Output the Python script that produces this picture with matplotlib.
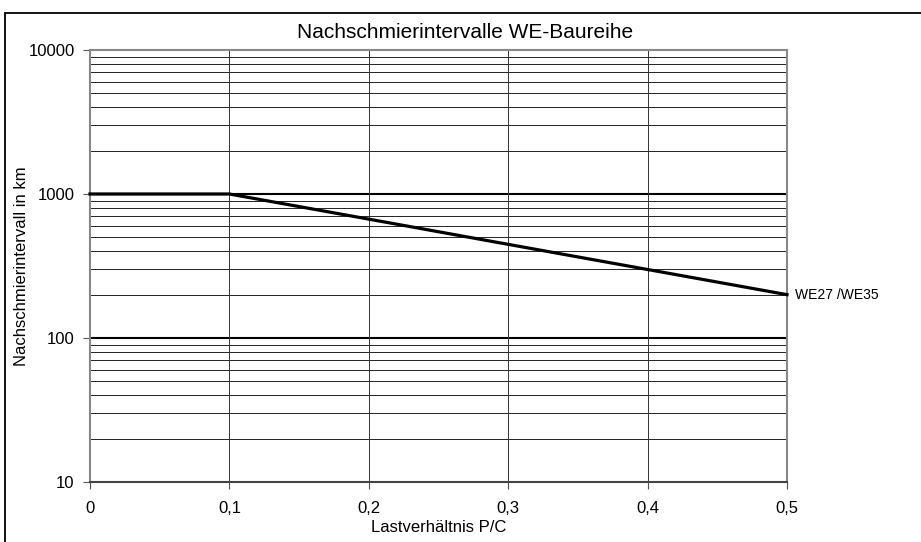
import matplotlib

matplotlib.use("Agg")
import matplotlib.pyplot as plt
from matplotlib.patches import Rectangle
from matplotlib.ticker import FixedLocator, NullFormatter


# P/C load ratio and relubrication interval in km
load_ratio = [0.0, 0.1, 0.2, 0.3, 0.4, 0.5]
interval_km = [1000, 1000, 669, 447, 299, 200]
series_label = "WE27 /WE35"

x_ticks = [0.0, 0.1, 0.2, 0.3, 0.4, 0.5]
x_tick_labels = ["0", "0,1", "0,2", "0,3", "0,4", "0,5"]
y_ticks = [10, 100, 1000, 10000]
y_tick_labels = ["10", "100", "1000", "10000"]

plt.rcParams["font.family"] = ["Liberation Sans", "DejaVu Sans"]

fig = plt.figure(figsize=(9.21, 5.42), dpi=100)
ax = fig.add_axes([90 / 921, 1 - 482 / 542, 697 / 921, 432 / 542])

ax.set_yscale("log")
ax.set_xlim(0, 0.5)
ax.set_ylim(10, 10000)

# minor log grid (2..9 per decade)
minors = [m * 10 ** d for d in range(1, 4) for m in range(2, 10)]
ax.yaxis.set_minor_locator(FixedLocator(minors))
ax.yaxis.set_minor_formatter(NullFormatter())
for v in minors:
    ax.axhline(v, color="#222222", lw=0.7, zorder=1)
for v in [100, 1000]:
    ax.axhline(v, color="black", lw=1.5, zorder=1)
for v in x_ticks[1:-1]:
    ax.axvline(v, color="#333333", lw=0.7, zorder=1)

ax.plot(load_ratio, interval_km, color="black", lw=2.3, zorder=3, clip_on=False)
ax.text(0.5 + 0.006, interval_km[-1], series_label, fontsize=10,
        ha="left", va="center")

ax.set_xticks(x_ticks)
ax.set_xticklabels(x_tick_labels, fontsize=12)
ax.set_yticks(y_ticks)
ax.set_yticklabels(y_tick_labels, fontsize=12)
ax.tick_params(axis="both", which="major", direction="out", length=5,
               width=0.8, color="#555555")
ax.tick_params(axis="x", which="major", pad=9)
ax.tick_params(axis="y", which="major", pad=6)
ax.tick_params(axis="y", which="minor", length=0)

for side in ["left", "right", "top"]:
    ax.spines[side].set_color("#888888")
    ax.spines[side].set_linewidth(1.5)
ax.spines["bottom"].set_color("#444444")
ax.spines["bottom"].set_linewidth(1.5)

ax.set_xlabel("Lastverhältnis P/C", fontsize=12)
ax.xaxis.set_label_coords(0.5, -(520 - 482) / 432)
ax.set_ylabel("Nachschmierintervall in km", fontsize=12)
ax.yaxis.set_label_coords((29 - 90) / 697, 0.5)

fig.text(465 / 921, 1 - 32 / 542, "Nachschmierintervalle WE-Baureihe",
         fontsize=15, ha="center", va="center")

# chart area border (runs off the right and bottom edges)
fig.patches.append(Rectangle((5 / 921, -0.1), 1.2, 1.1 - 13 / 542,
                             transform=fig.transFigure, fill=False,
                             edgecolor="black", lw=1.3))

fig.savefig("out.png", dpi=100)
